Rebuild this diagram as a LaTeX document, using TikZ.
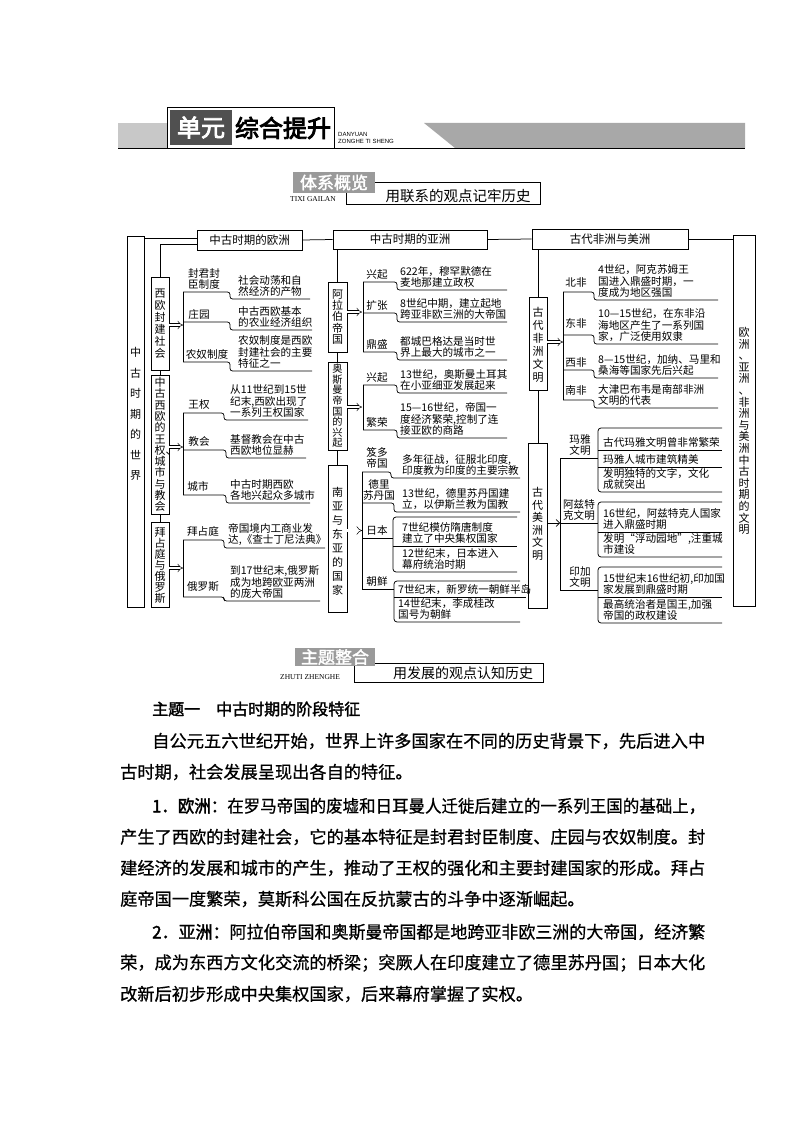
\documentclass[tikz,border=0pt]{standalone}
\usepackage{fontspec}
\usepackage{graphicx}
\setmainfont{Noto Sans CJK SC}
\newfontfamily\boldcjk[FakeBold=2]{Noto Sans CJK SC}
\newfontfamily\heavycjk[FakeBold=3.5]{Noto Sans CJK SC}
\newfontfamily\bodycjk[FakeBold=0.7]{Noto Sans CJK SC}
\newfontfamily\latser{Liberation Serif}
\newfontfamily\latsans{Liberation Sans}
\usetikzlibrary{arrows.meta}
\definecolor{bandL}{HTML}{C8C8C8}
\definecolor{bandD}{HTML}{A8A8A8}
\definecolor{tagG}{HTML}{9A9A9A}
\definecolor{darkG}{HTML}{505050}
\newcommand\stepline[5]{\draw[ln, rounded corners=2.5pt] (#1,#2) -- (#3,#2) -- (#3,#4) -- (#5,#4);}
\newcommand\fitline[2]{\resizebox{#1}{\height}{#2}}
\tikzset{
  ln/.style={line width=0.75pt},
  vbox/.style={draw, line width=0.8pt, inner sep=0pt},
  vtxt/.style={inner sep=0pt, align=center, font=\fontsize{11}{#1}\selectfont},
  hbox/.style={draw, line width=0.8pt, inner sep=0pt, font=\fontsize{11.5}{13}\selectfont},
  lab/.style={inner sep=0pt, align=center, anchor=south, font=\fontsize{10.6}{11.6}\selectfont},
  dsc/.style={inner sep=0pt, align=left, anchor=south west, font=\fontsize{10.6}{11.6}\selectfont},
  dbl/.style={line width=0.5pt, double distance=2.4pt, -{Implies}},
  sgl/.style={line width=0.6pt, -{Straight Barb[length=3.5pt,width=7pt]}},
  body/.style={inner sep=0pt, anchor=west, font=\bodycjk\fontsize{17.2}{20}\selectfont},
}
\begin{document}
\begin{tikzpicture}[x=1pt,y=-1pt]
\useasboundingbox (0,0) rectangle (794,1123);
\fill[white] (0,0) rectangle (794,1123);

% ---------- header ----------
\fill[bandL] (118,123) rectangle (310,148);
\fill[bandD] (424,123) -- (745,123) -- (745,148) -- (455,148) -- cycle;
\node[draw, line width=0.8pt, fill=white, minimum width=167, minimum height=41, inner sep=0pt] (hdr) at (250.5,127.5) {};
\node[fill=darkG, minimum width=62, minimum height=35, inner sep=0pt, text=white, font=\heavycjk\fontsize{24}{26}\selectfont] (hdrA) at (201,127.5) {单元};
\node[inner sep=0pt, font=\heavycjk\fontsize{24}{26}\selectfont] (hdrB) at (283,128) {综合提升};
\draw[line width=1.4pt] (118,148.5) -- (745,148.5);
\node[inner sep=0pt, anchor=west, font=\latsans\fontsize{6}{7}\selectfont] (hdrC) at (338,134) {DANYUAN};
\node[inner sep=0pt, anchor=west, font=\latsans\fontsize{6}{7}\selectfont] (hdrD) at (338,141.5) {ZONGHE TI SHENG};

% ---------- subheader 1 ----------
\node[draw, line width=0.7pt, minimum width=194, minimum height=22, inner sep=0pt] (s1box) at (443,193) {};
\node[inner sep=0pt, font=\fontsize{14.5}{16}\selectfont] (s1txt) at (458,196) {用联系的观点记牢历史};
\node[fill=tagG, minimum width=82, minimum height=21, inner sep=0pt, text=white, font=\boldcjk\fontsize{17}{19}\selectfont] (s1tag) at (334,182.5) {体系概览};
\node[inner sep=0pt, anchor=west, font=\latser\fontsize{7.5}{8}\selectfont] (s1lat) at (290,199) {TIXI GAILAN};

% ---------- top row ----------
\node[vbox, minimum width=17, minimum height=371] (world) at (135.5,421.5) {};
\node[vtxt=20.5] (worldt) at (135.5,414) {中\\古\\时\\期\\的\\世\\界};
\node[vbox, minimum width=22, minimum height=371] (rbox) at (744,420.5) {};
\node[vtxt=11.6] (rboxt) at (744,431) {欧\\洲\\、\\亚\\洲\\、\\非\\洲\\与\\美\\洲\\中\\古\\时\\期\\的\\文\\明};

\node[hbox, minimum width=105, minimum height=20] (eu) at (249.5,240) {中古时期的欧洲};
\node[hbox, minimum width=154, minimum height=19] (as) at (410,239.5) {中古时期的亚洲};
\node[hbox, minimum width=156, minimum height=20] (af) at (610,239) {古代非洲与美洲};

\draw[ln] ([yshift=-3pt]world.north east) -- ([yshift=-3pt]world.north east -| eu.west);
\draw[ln] (eu.east) -- (as.west);
\draw[ln] (as.east) -- (af.west);
\draw[ln] (af.east) -- (af.east -| rbox.west);

% ---------- Europe ----------
\node[vbox, minimum width=18, minimum height=93] (xf) at (160,323.5) {};
\node[vtxt=12] (xft) at (160,323.5) {西\\欧\\封\\建\\社\\会};
\node[vbox, minimum width=18, minimum height=139] (wq) at (160,444.5) {};
\node[vtxt=11.3] (wqt) at (160,444.5) {中\\古\\西\\欧\\的\\王\\权\rlap{、}\\城\\市\\与\\教\\会};
\node[vbox, minimum width=18, minimum height=85] (bz) at (160,564.5) {};
\node[vtxt=11] (bzt) at (160,565) {拜\\占\\庭\\与\\俄\\罗\\斯};

\draw[ln] ([yshift=-4pt]eu.west) -| (xf.north);
\draw[ln] (xf.south) -- (wq.north);
\draw[ln] (wq.south) -- (bz.north);

\coordinate (spA) at (183,292);
\draw[dbl] ([yshift=-1.5pt]xf.east) -- ([yshift=-1.5pt]xf.east -| spA);
\draw[dbl] ([yshift=-2.5pt]wq.east) -- ([yshift=-2.5pt]wq.east -| spA);
\draw[dbl] ([yshift=-3.5pt]bz.east) -- ([yshift=-3.5pt]bz.east -| spA);

\draw[ln] (183,292) -- (183,362);
\stepline{183}{292}{230}{299}{310}
\stepline{183}{322}{230}{330}{312}
\stepline{183}{362}{230}{371}{312}
\node[lab] (la1) at (204,290) {封君封\\臣制度};
\node[lab] (la2) at (199,320) {庄园};
\node[lab] (la3) at (207,360) {农奴制度};
\node[dsc] (da1) at (238,297) {社会动荡和自\\然经济的产物};
\node[dsc] (da2) at (238,328) {中古西欧基本\\的农业经济组织};
\node[dsc] (da3) at (238,369) {农奴制度是西欧\\封建社会的主要\\特征之一};

\draw[ln] (183,413) -- (183,495);
\stepline{183}{413}{224}{420}{308}
\stepline{183}{450}{226}{458}{306}
\stepline{183}{495}{226}{503}{310}
\node[lab] (lb1) at (199,410) {王权};
\node[lab] (lb2) at (199,447) {教会};
\node[lab] (lb3) at (198,492) {城市};
\node[dsc] (db1) at (230,418) {从11世纪到15世\\纪末,西欧出现了\\一系列王权国家};
\node[dsc] (db2) at (230,456) {基督教会在中古\\西欧地位显赫};
\node[dsc] (db3) at (230,501) {中古时期西欧\\各地兴起众多城市};

\draw[ln] (183,540) -- (183,597);
\stepline{183}{540}{224}{548}{325}
\stepline{183}{597}{224}{601}{320}
\node[lab] (lc1) at (203,537) {拜占庭};
\node[lab] (lc2) at (203,592) {俄罗斯};
\node[dsc] (dc1) at (228,546) {帝国境内工商业发\\达,《查士丁尼法典》};
\node[dsc] (dc2) at (230,599) {到17世纪末,俄罗斯\\成为地跨欧亚两洲\\的庞大帝国};

% ---------- Asia ----------
\node[vbox, minimum width=19, minimum height=70] (ar) at (337.5,317) {};
\node[vtxt=11.3] (art) at (337.5,317) {阿\\拉\\伯\\帝\\国};
\node[vbox, minimum width=19, minimum height=88] (ot) at (337.5,406) {};
\node[vtxt=10.6, font=\fontsize{10.2}{10.6}\selectfont] (ott) at (337.5,406) {奥\\斯\\曼\\帝\\国\\的\\兴\\起};
\node[vbox, minimum width=19, minimum height=147] (sa) at (337.5,538.5) {};
\node[vtxt=14] (sat) at (337.5,541) {南\\亚\\与\\东\\亚\\的\\国\\家};

\draw[ln] (as.south -| ar.north) -- (ar.north);
\draw[ln] (ar.south) -- (ot.north);
\draw[ln] (ot.south) -- (sa.north);

\coordinate (spB) at (362,282);
\draw[dbl] ([yshift=5pt]ar.east) -- ([yshift=5pt]ar.east -| spB);
\draw[dbl] ([yshift=-1pt]ot.east) -- ([yshift=-1pt]ot.east -| spB);
\draw[dbl] ([yshift=8pt]sa.east) -- ([yshift=8pt]sa.east -| spB);

\draw[ln] (363,282) -- (363,352);
\stepline{363}{282}{397}{290}{507}
\stepline{363}{313}{397}{322}{507}
\stepline{363}{352}{397}{360}{507}
\node[lab] (ld1) at (377,280) {兴起};
\node[lab] (ld2) at (377,311) {扩张};
\node[lab] (ld3) at (377,350) {鼎盛};
\node[dsc] (dd1) at (400,288) {622年，穆罕默德在\\麦地那建立政权};
\node[dsc] (dd2) at (400,320) {8世纪中期，建立起地\\跨亚非欧三洲的大帝国};
\node[dsc] (dd3) at (400,358) {都城巴格达是当时世\\界上最大的城市之一};

\draw[ln] (363,385) -- (363,430);
\stepline{363}{385}{397}{393}{507}
\stepline{363}{430}{397}{438}{507}
\node[lab] (le1) at (377,383) {兴起};
\node[lab] (le2) at (377,428) {繁荣};
\node[dsc] (de1) at (400,391) {13世纪，奥斯曼土耳其\\在小亚细亚发展起来};
\node[dsc] (de2) at (400,436) {15—16世纪，帝国一\\度经济繁荣,控制了连\\接亚欧的商路};

\draw[ln] (362,472) -- (362,589);
\stepline{362}{472}{391}{478}{520}
\stepline{362}{503}{394}{512}{520}
\draw[ln] (362,538) -- (393,538);
\draw[ln, rounded corners=3pt] (517,517) -- (393,517) -- (393,572) -- (517,572);
\draw[ln] (393,546) -- (517,546);
\draw[ln] (362,589) -- (394,589);
\draw[ln, rounded corners=3pt] (520,581) -- (394,581) -- (394,622) -- (520,622);
\draw[ln] (394,597) -- (526,597);
\node[lab] (lf1) at (377,469) {笈多\\帝国};
\node[lab] (lf2) at (379,501) {德里\\苏丹国};
\node[lab] (lf3) at (377,536) {日本};
\node[lab] (lf4) at (377,587) {朝鲜};
\node[dsc] (df1) at (402,476) {多年征战，征服北印度,\\印度教为印度的主要宗教};
\node[dsc] (df2) at (402,510) {13世纪，德里苏丹国建\\立，以伊斯兰教为国教};
\node[dsc] (df3) at (402,544) {7世纪模仿隋唐制度\\建立了中央集权国家};
\node[dsc] (df4) at (402,570) {12世纪末，日本进入\\幕府统治时期};
\node[dsc] (df5) at (398,595) {7世纪末，新罗统一朝鲜半岛};
\node[dsc] (df6) at (398,620) {14世纪末，李成桂改\\国号为朝鲜};

% ---------- Africa & America ----------
\node[vbox, minimum width=18, minimum height=93] (afr) at (538,343.5) {};
\node[vtxt=13] (afrt) at (538,345) {古\\代\\非\\洲\\文\\明};
\node[vbox, minimum width=19, minimum height=165] (am) at (537.5,525.5) {};
\node[vtxt=12.5] (amt) at (537.5,524) {古\\代\\美\\洲\\文\\明};

\draw[ln] (af.south -| afr.north) -- (afr.north);
\draw[ln] (afr.south) -- (afr.south |- am.north);

\coordinate (spC) at (563,292);
\coordinate (spD) at (560,458);
\draw[dbl] ([yshift=1.5pt]afr.east) -- ([yshift=1.5pt]afr.east -| spC);
\draw[sgl] ([yshift=2.5pt]am.east) -- ([yshift=2.5pt]am.east -| spD);

\draw[ln] (563,292) -- (563,400);
\stepline{563}{292}{594}{300}{718}
\stepline{563}{335}{594}{344}{718}
\stepline{563}{370}{594}{378}{718}
\stepline{563}{400}{594}{408}{718}
\node[lab] (lg1) at (576,288) {北非};
\node[lab] (lg2) at (576,329) {东非};
\node[lab] (lg3) at (576,368) {西非};
\node[lab] (lg4) at (576,396) {南非};
\node[dsc] (dg1) at (598,298) {4世纪，阿克苏姆王\\国进入鼎盛时期，一\\度成为地区强国};
\node[dsc] (dg2) at (598,342) {10—15世纪，在东非沿\\海地区产生了一系列国\\家，广泛使用奴隶};
\node[dsc] (dg3) at (598,376) {8—15世纪，加纳、马里和\\桑海等国家先后兴起};
\node[dsc] (dg4) at (598,406) {大津巴布韦是南部非洲\\文明的代表};

\draw[ln] (560,458) -- (560,590);
\draw[ln] (560,458) -- (598,458);
\draw[ln, rounded corners=3pt] (722,428) -- (598,428) -- (598,492) -- (722,492);
\draw[ln] (598,450) -- (722,450);
\draw[ln] (598,467) -- (722,467);
\draw[ln] (560,523) -- (598,523);
\draw[ln, rounded corners=3pt] (722,502) -- (598,502) -- (598,557) -- (722,557);
\draw[ln] (598,532) -- (722,532);
\draw[ln] (560,590) -- (598,590);
\draw[ln, rounded corners=3pt] (722,567) -- (598,567) -- (598,623) -- (722,623);
\draw[ln] (598,597) -- (722,597);
\node[lab] (lh1) at (580,456) {玛雅\\文明};
\node[lab] (lh2) at (579,521) {阿兹特\\克文明};
\node[lab] (lh3) at (580,588) {印加\\文明};
\node[dsc] (dh1) at (603,448) {古代玛雅文明曾非常繁荣};
\node[dsc] (dh2) at (603,465) {玛雅人城市建筑精美};
\node[dsc] (dh3) at (603,490) {发明独特的文字，文化\\成就突出};
\node[dsc] (dh4) at (603,530) {16世纪，阿兹特克人国家\\进入鼎盛时期};
\node[dsc] (dh5) at (603,555) {发明“浮动园地”,注重城\\市建设};
\node[dsc] (dh6) at (603,595) {15世纪末16世纪初,印加国\\家发展到鼎盛时期};
\node[dsc] (dh7) at (603,621) {最高统治者是国王,加强\\帝国的政权建设};

% ---------- subheader 2 ----------
\node[draw, line width=0.7pt, minimum width=189, minimum height=19, inner sep=0pt] (s2box) at (448.5,672.5) {};
\node[inner sep=0pt, font=\fontsize{14}{16}\selectfont] (s2txt) at (463,673) {用发展的观点认知历史};
\node[fill=tagG, minimum width=80, minimum height=18, inner sep=0pt, text=white, font=\boldcjk\fontsize{17}{19}\selectfont] (s2tag) at (335,657) {主题整合};
\node[inner sep=0pt, anchor=west, fill=white, font=\latser\fontsize{7.5}{8}\selectfont] (s2lat) at (280,677) {ZHUTI ZHENGHE};

% ---------- body text ----------
\node[body, font=\boldcjk\fontsize{16}{18}\selectfont] (t0) at (152,709) {主题一\hspace{1em}中古时期的阶段特征};
\node[body] (t1) at (152,741) {\fitline{553pt}{自公元五六世纪开始，世界上许多国家在不同的历史背景下，先后进入中}};
\node[body] (t2) at (120,772) {古时期，社会发展呈现出各自的特征。};
\node[body] (t3) at (152,806) {\fitline{553pt}{{\boldcjk 1．欧洲：}在罗马帝国的废墟和日耳曼人迁徙后建立的一系列王国的基础上，}};
\node[body] (t4) at (120,837) {\fitline{585pt}{产生了西欧的封建社会，它的基本特征是封君封臣制度、庄园与农奴制度。封}};
\node[body] (t5) at (120,868) {\fitline{585pt}{建经济的发展和城市的产生，推动了王权的强化和主要封建国家的形成。拜占}};
\node[body] (t6) at (120,899) {庭帝国一度繁荣，莫斯科公国在反抗蒙古的斗争中逐渐崛起。};
\node[body] (t7) at (152,932) {\fitline{553pt}{{\boldcjk 2．亚洲：}阿拉伯帝国和奥斯曼帝国都是地跨亚非欧三洲的大帝国，经济繁}};
\node[body] (t8) at (120,963) {\fitline{585pt}{荣，成为东西方文化交流的桥梁；突厥人在印度建立了德里苏丹国；日本大化}};
\node[body] (t9) at (120,994) {改新后初步形成中央集权国家，后来幕府掌握了实权。};
\end{tikzpicture}
\end{document}
